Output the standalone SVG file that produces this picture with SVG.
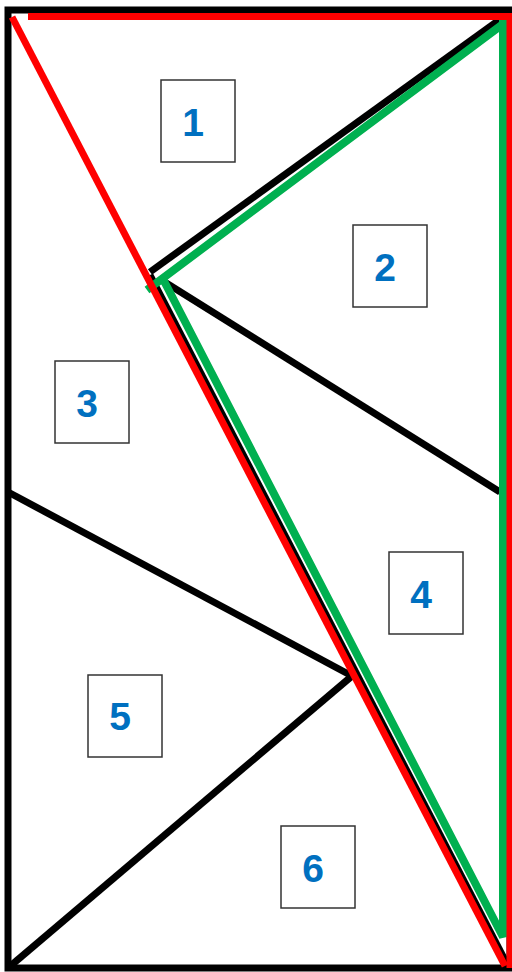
<svg xmlns="http://www.w3.org/2000/svg" width="512" height="972" viewBox="0 0 512 972">
<style>
.blk{stroke:#000;stroke-width:7;fill:none}
.red{stroke:#FF0000;stroke-width:7;fill:none}
.grn{stroke:#00B050;stroke-width:8;fill:none}
.box{fill:#fff;stroke:#333;stroke-width:1.5}
.lbl{font-family:"Liberation Sans",Arial,sans-serif;font-weight:bold;font-size:39px;fill:#0070C0;text-anchor:middle}
</style>
<rect width="512" height="972" fill="#fff"/>
<g id="connectors">
<rect x="8" y="10" width="502" height="958" class="blk" stroke-width="8"/>
<line x1="150" y1="275" x2="508" y2="966" class="blk" stroke-width="6"/>
<line x1="150" y1="272" x2="499" y2="20" class="blk"/>
<line x1="163" y1="281" x2="500" y2="492" class="blk"/>
<line x1="8" y1="492" x2="352" y2="676" class="blk"/>
<line x1="8" y1="968" x2="352" y2="676" class="blk"/>
<polyline points="147,290 503,24 503,937 163,279" class="grn"/>
<line x1="503" y1="17" x2="503" y2="30" class="grn"/>
<line x1="28" y1="16.5" x2="512" y2="16.5" class="red"/>
<line x1="510" y1="17" x2="510" y2="968" class="red" stroke-width="5"/>
<line x1="12" y1="17" x2="505" y2="966" class="red"/>
</g>
<g id="n1"><rect x="161" y="80" width="74" height="82" class="box"/><text x="193" y="136" class="lbl">1</text></g>
<g id="n2"><rect x="353" y="225" width="74" height="82" class="box"/><text x="385" y="281" class="lbl">2</text></g>
<g id="n3"><rect x="55" y="361" width="74" height="82" class="box"/><text x="87" y="417" class="lbl">3</text></g>
<g id="n4"><rect x="389" y="552" width="74" height="82" class="box"/><text x="421" y="608" class="lbl">4</text></g>
<g id="n5"><rect x="88" y="675" width="74" height="82" class="box"/><text x="120" y="730" class="lbl">5</text></g>
<g id="n6"><rect x="281" y="826" width="74" height="82" class="box"/><text x="313" y="882" class="lbl">6</text></g>
</svg>
